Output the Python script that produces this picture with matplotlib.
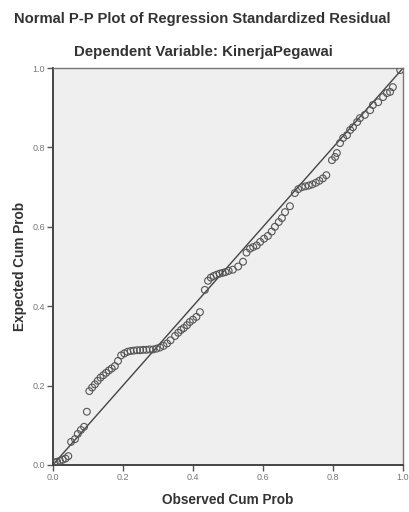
import matplotlib
matplotlib.use("Agg")
import matplotlib.pyplot as plt

observed = [0.005, 0.012, 0.020, 0.028, 0.036, 0.044, 0.052, 0.063, 0.071, 0.080, 0.089,
            0.097, 0.104, 0.112, 0.120, 0.128, 0.136, 0.144, 0.152, 0.160, 0.168, 0.177,
            0.186, 0.195, 0.204, 0.213, 0.222, 0.231, 0.240, 0.249, 0.258, 0.267, 0.276,
            0.286, 0.296, 0.306, 0.316, 0.326, 0.336, 0.349, 0.358, 0.366, 0.374, 0.383,
            0.391, 0.400, 0.410, 0.420, 0.434, 0.443, 0.451, 0.459, 0.467, 0.476, 0.485,
            0.493, 0.502, 0.514, 0.529, 0.543, 0.553, 0.563, 0.572, 0.582, 0.592, 0.603,
            0.614, 0.625, 0.634, 0.645, 0.654, 0.663, 0.677, 0.691, 0.701, 0.711, 0.721,
            0.731, 0.741, 0.751, 0.761, 0.771, 0.781, 0.797, 0.806, 0.811, 0.820, 0.829,
            0.840, 0.849, 0.857, 0.869, 0.877, 0.891, 0.906, 0.914, 0.929, 0.943, 0.954,
            0.963, 0.971, 0.992]
expected = [0.006, 0.008, 0.010, 0.013, 0.016, 0.022, 0.058, 0.065, 0.078, 0.088, 0.096,
            0.134, 0.186, 0.195, 0.203, 0.212, 0.220, 0.226, 0.232, 0.238, 0.243, 0.249,
            0.262, 0.276, 0.281, 0.285, 0.287, 0.288, 0.289, 0.289, 0.290, 0.290, 0.291,
            0.291, 0.293, 0.296, 0.300, 0.306, 0.314, 0.325, 0.333, 0.340, 0.345, 0.352,
            0.360, 0.366, 0.373, 0.385, 0.441, 0.464, 0.472, 0.476, 0.479, 0.482, 0.484,
            0.486, 0.489, 0.492, 0.500, 0.512, 0.535, 0.545, 0.549, 0.553, 0.562, 0.570,
            0.577, 0.588, 0.600, 0.612, 0.622, 0.637, 0.652, 0.685, 0.695, 0.700, 0.702,
            0.704, 0.707, 0.711, 0.716, 0.722, 0.730, 0.768, 0.776, 0.786, 0.811, 0.824,
            0.831, 0.844, 0.851, 0.864, 0.874, 0.882, 0.894, 0.907, 0.914, 0.927, 0.937,
            0.940, 0.952, 0.995]
ticks = [0.0, 0.2, 0.4, 0.6, 0.8, 1.0]
tick_labels = ["0.0", "0.2", "0.4", "0.6", "0.8", "1.0"]

plt.rcParams['font.family'] = ['Liberation Sans', 'DejaVu Sans']

fig = plt.figure(figsize=(4.10, 5.12), dpi=100)
fig.patch.set_facecolor("white")
ax = fig.add_axes([0.129, 0.092, 0.854, 0.775])
ax.set_facecolor("#efefef")

ax.plot([0, 1], [0, 1], color="#444444", lw=1.0, zorder=2)
ax.scatter(observed, expected, s=24, facecolors="none", edgecolors="#555555",
           linewidths=0.8, zorder=3)

ax.set_xlim(0, 1)
ax.set_ylim(0, 1)
ax.set_xticks(ticks)
ax.set_xticklabels(tick_labels)
ax.set_yticks(ticks)
ax.set_yticklabels(tick_labels)
ax.tick_params(axis="both", direction="out", length=4, width=1.0, color="#555555",
               labelsize=6.5, labelcolor="#777777", pad=1.5)
for side in ["left", "bottom"]:
    ax.spines[side].set_color("#444444")
    ax.spines[side].set_linewidth(1.4)
for side in ["top", "right"]:
    ax.spines[side].set_color("#777777")
    ax.spines[side].set_linewidth(1.0)

ax.set_xlabel("Observed Cum Prob", fontsize=9.8, fontweight="bold", color="#333333", labelpad=8)
ax.set_ylabel("Expected Cum Prob", fontsize=9.8, fontweight="bold", color="#333333", labelpad=4)

fig.text(0.493, 0.962, "Normal P-P Plot of Regression Standardized Residual",
         ha="center", va="center", fontsize=10.6, fontweight="bold", color="#333333")
fig.text(0.495, 0.899, "Dependent Variable: KinerjaPegawai",
         ha="center", va="center", fontsize=10.8, fontweight="bold", color="#333333")

fig.savefig("out.png", dpi=100)
